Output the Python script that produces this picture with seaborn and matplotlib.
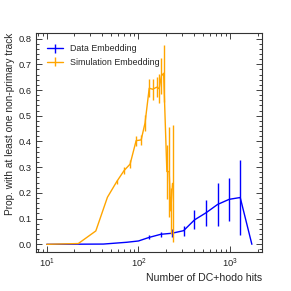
#import libraries
import pandas as pd
import seaborn as sns
import matplotlib.pyplot as plt
from matplotlib.ticker import AutoMinorLocator, LogLocator, NullFormatter
from matplotlib.legend_handler import HandlerTuple

#data
data_hits = [10, 41.5, 74.6, 100, 131, 175, 231, 310, 408, 547, 728, 975, 1285, 1722]
data_prop = [0.0, 0.001, 0.008, 0.013, 0.027, 0.039, 0.043, 0.053, 0.095, 0.123, 0.155, 0.175, 0.182, 0.0]
data_err = [0.0, 0.0, 0.0, 0.0, 0.008, 0.01, 0.015, 0.02, 0.037, 0.05, 0.083, 0.084, 0.146, 0.0]

sim_hits = [10, 22.1, 34.3, 45.9, 58.0, 69.8, 81.1, 94.3, 107, 118, 131, 143, 158, 168, 178, 188, 204, 216, 225, 235]
sim_prop = [0.0, 0.003, 0.052, 0.183, 0.244, 0.287, 0.312, 0.403, 0.406, 0.472, 0.607, 0.603, 0.611, 0.605, 0.655, 0.665,
            0.283, 0.283, 0.13, 0.237]
sim_err = [0.0, 0.0, 0.0, 0.0, 0.008, 0.012, 0.015, 0.02, 0.02, 0.03, 0.035, 0.04, 0.04, 0.057, 0.07, 0.11,
           0.105, 0.175, 0.09, 0.227]

data_df = pd.DataFrame({'hits': data_hits, 'prop': data_prop, 'err': data_err})
sim_df = pd.DataFrame({'hits': sim_hits, 'prop': sim_prop, 'err': sim_err})

#style
sns.set_theme(style='ticks')
plt.rcParams['font.family'] = ['Liberation Sans', 'DejaVu Sans']

fig = plt.figure(figsize=(2.91, 2.91), dpi=100)
ax = fig.add_axes([0.124, 0.133, 0.776, 0.753])

handles = []
for df, color, name in [(data_df, 'blue', 'Data Embedding'), (sim_df, 'orange', 'Simulation Embedding')]:
    sns.lineplot(x='hits', y='prop', data=df, color=color, linewidth=1.0, ax=ax, legend=False)
    line = ax.get_lines()[-1]
    bars = ax.errorbar(df['hits'], df['prop'], yerr=df['err'], fmt='none', ecolor=color, elinewidth=1.0)
    handles.append(((line, bars), name))

ax.set_xscale('log')
ax.set_xlim(7.66, 2215)
ax.set_ylim(-0.031, 0.821)

ax.xaxis.set_minor_locator(LogLocator(base=10, subs=range(2, 10)))
ax.xaxis.set_minor_formatter(NullFormatter())
ax.yaxis.set_minor_locator(AutoMinorLocator(5))
ax.tick_params(which='both', direction='in', top=True, right=True, labelsize=6.7, width=0.6, colors='#222222', pad=3)
ax.tick_params(which='major', length=4)
ax.tick_params(which='minor', length=2)
for s in ax.spines.values():
    s.set_linewidth(0.8)
    s.set_color('#333333')

ax.set_xlabel('Number of DC+hodo hits', fontsize=7.6, ha='right', x=1.0, labelpad=2)
ax.set_ylabel('Prop. with at least one non-primary track', fontsize=7.3, ha='right', y=1.0, labelpad=3)

ax.legend([h for h, _ in handles], [n for _, n in handles], handler_map={tuple: HandlerTuple(ndivide=1)},
          loc='upper left', frameon=False, fontsize=6.4, handlelength=1.8,
          borderaxespad=0.85)

fig.savefig('out.png', dpi=100)
